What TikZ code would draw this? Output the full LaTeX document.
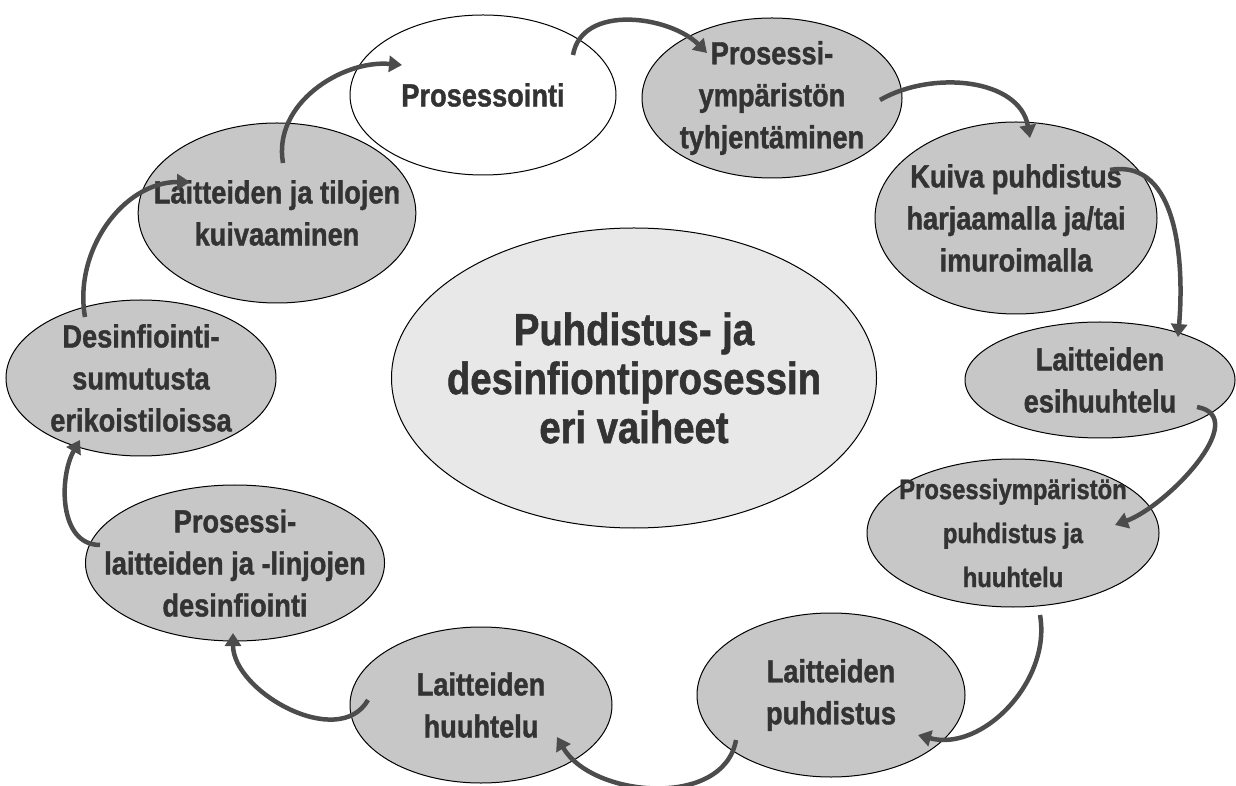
\documentclass[tikz,border=0pt]{standalone}
\usepackage{fontspec}
\newfontfamily\narrowsans{Liberation Sans}[FakeStretch=0.85,FakeBold=1.2]
\usetikzlibrary{arrows.meta,shapes.geometric}

\tikzset{
  phase/.style={ellipse, draw=black, line width=1pt, fill=black!22, text=black!80,
    align=center, inner xsep=-25pt, inner ysep=-20pt,
    font=\narrowsans\bfseries\fontsize{32}{42}\selectfont},
  cyclearrow/.style={draw=black!70, line width=4.5pt, -{Triangle[length=13pt,width=16pt]}},
}

\begin{document}
\begin{tikzpicture}
                \tikzset{x={(1pt, 0pt)}, y={(0pt, 1pt)}}
                \useasboundingbox (0,0) rectangle (1236,785);
                % vaiheet
                \node[phase, fill=black!9, minimum width=485pt, minimum height=300pt,
                      font=\narrowsans\bfseries\fontsize{45}{49}\selectfont] (main) at (634,407)
                      {Puhdistus- ja\\desinfiontiprosessin\\eri vaiheet};
                \node[phase, fill=white, minimum width=266pt, minimum height=160pt] (proc) at (483,690) {Prosessointi};
                \node[phase, minimum width=260pt, minimum height=160pt] (tyhj) at (772,687) {Prosessi-\\ympäristön\\tyhjentäminen};
                \node[phase, minimum width=282pt, minimum height=192pt] (kuiva) at (1016,567) {Kuiva puhdistus\\harjaamalla ja/tai\\imuroimalla};
                \node[phase, minimum width=270pt, minimum height=116pt] (esih) at (1100,405) {Laitteiden\\esihuuhtelu};
                \node[phase, minimum width=292pt, minimum height=148pt,
                      font=\narrowsans\bfseries\fontsize{28}{44}\selectfont] (ympp) at (1013,252) {Prosessiympäristön\\puhdistus ja\\huuhtelu};
                \node[phase, minimum width=268pt, minimum height=164pt] (lpuh) at (831,90) {Laitteiden\\puhdistus};
                \node[phase, minimum width=262pt, minimum height=156pt] (lhuu) at (481,80) {Laitteiden\\huuhtelu};
                \node[phase, minimum width=286pt, minimum height=156pt] (pdes) at (235,222) {Prosessi-\\laitteiden ja -linjojen\\desinfiointi};
                \node[phase, minimum width=270pt, minimum height=156pt] (sumu) at (141,407) {Desinfiointi-\\sumutusta\\erikoistiloissa};
                \node[phase, minimum width=264pt, minimum height=180pt] (kuiv) at (277,572) {Laitteiden ja tilojen\\kuivaaminen};
                % nuolet
                \draw[cyclearrow] ([shift={(90,40)}]proc.center) to[out=80, in=135] ([shift={(-65,45)}]tyhj.center);
                \draw[cyclearrow] ([shift={(108,-2)}]tyhj.center) to[out=30, in=100] ([shift={(14,80)}]kuiva.center);
                \draw[cyclearrow] ([shift={(94,48)}]kuiva.center) to[out=10, in=85] ([shift={(78,43)}]esih.center);
                \draw[cyclearrow] ([shift={(97,-27)}]esih.center) to[out=-10, in=20] ([shift={(102,8)}]ympp.center);
                \draw[cyclearrow] ([shift={(27,-82)}]ympp.center) to[out=-80, in=-15] ([shift={(87,-40)}]lpuh.center);
                \draw[cyclearrow] ([shift={(-95,-45)}]lpuh.center) to[out=-100, in=-60] ([shift={(76,-32)}]lhuu.center);
                \draw[cyclearrow] ([shift={(-113,5)}]lhuu.center) to[out=-120, in=-90] ([shift={(-2,-70)}]pdes.center);
                \draw[cyclearrow] ([shift={(-135,18)}]pdes.center) to[out=180, in=-120] ([shift={(-61,-62)}]sumu.center);
                \draw[cyclearrow] ([shift={(-56,61)}]sumu.center) to[out=100, in=180] ([shift={(-87,31)}]kuiv.center);
                \draw[cyclearrow] ([shift={(6,50)}]kuiv.center) to[out=100, in=175] ([shift={(-81,30)}]proc.center);
\end{tikzpicture}
\end{document}
